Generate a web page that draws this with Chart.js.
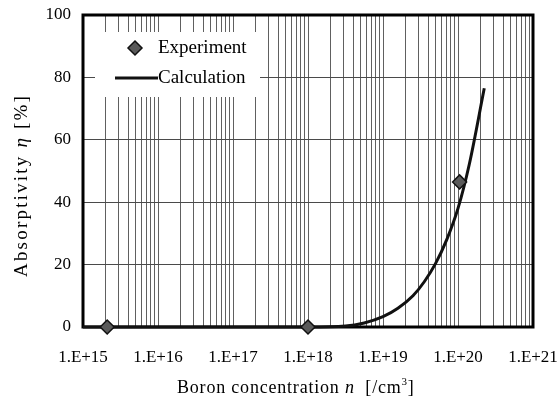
<!DOCTYPE html>
<html lang="en">
<head>
<meta charset="UTF-8" />
<title>Absorptivity vs boron concentration</title>
<script src="https://cdn.jsdelivr.net/npm/chart.js"></script>
<style>
  html, body { margin: 0; padding: 0; background: #fff; }
  canvas { display: block; }
</style>
</head>
<body>

<canvas id="grafico" width="559" height="401"></canvas>

<script>
  // tick labels for the decades on the x axis
  const xTickLabels = ['1.E+15', '1.E+16', '1.E+17', '1.E+18', '1.E+19', '1.E+20', '1.E+21'];
  const xMin = 1e15, xMax = 1e21;
  const yMin = 0, yMax = 100, yStep = 20;

  // measured points
  const expN   = [2.1e15, 1e18, 1.05e20];
  const expEta = [0, 0, 46.5];

  // calculated curve
  const calcN   = [1e15, 1e18, 3.16e18, 5.62e18, 1e19, 1.58e19, 2.51e19, 3.55e19, 5.01e19, 7.08e19, 1e20, 1.41e20, 2.24e20];
  const calcEta = [0, 0, 0.3, 1.3, 3.3, 6, 10, 14.5, 20.3, 28, 38, 52, 76.5];

  const serif = '"Liberation Serif", "Times New Roman", serif';
  const ink = '#000';

  function drawParts(ctx, parts, x, y, spacing) {
    ctx.letterSpacing = spacing + 'px';
    let cx = x;
    for (const p of parts) {
      ctx.font = p.font;
      ctx.fillText(p.t, cx, y - (p.rise || 0));
      cx += ctx.measureText(p.t).width;
    }
    ctx.letterSpacing = '0px';
  }

  const titulos = {
    id: 'titulos',
    afterDraw(chart) {
      const ctx = chart.ctx;
      ctx.save();
      ctx.fillStyle = ink;
      ctx.textAlign = 'left';
      ctx.textBaseline = 'alphabetic';
      drawParts(ctx, [
        { t: 'Boron concentration ', font: '18px ' + serif },
        { t: 'n', font: 'italic 18px ' + serif },
        { t: '  [/cm', font: '18px ' + serif },
        { t: '3', font: '11px ' + serif, rise: 8 },
        { t: ']', font: '18px ' + serif }
      ], 177, 393, 0.8);

      ctx.translate(27, 277);
      ctx.rotate(-Math.PI / 2);
      drawParts(ctx, [
        { t: 'Absorptivity ', font: '19px ' + serif },
        { t: 'η', font: 'italic 19px ' + serif },
        { t: ' [%]', font: '19px ' + serif }
      ], 0, 0, 2.2);
      ctx.restore();
    }
  };

  // legend inside the plot + the black frame
  const moldura = {
    id: 'moldura',
    beforeDatasetsDraw(chart) {
      const ctx = chart.ctx;
      const a = chart.chartArea;
      const ds = chart.data.datasets;
      ctx.save();
      ctx.fillStyle = '#fff';
      ctx.fillRect(a.left + 12, a.top + 17, 165, 65);

      // experiment marker
      const mx = a.left + 52, my = a.top + 33;
      ctx.beginPath();
      ctx.moveTo(mx, my - 7); ctx.lineTo(mx + 7, my); ctx.lineTo(mx, my + 7); ctx.lineTo(mx - 7, my);
      ctx.closePath();
      ctx.fillStyle = ds[0].backgroundColor;
      ctx.fill();
      ctx.lineWidth = 1.5;
      ctx.strokeStyle = ds[0].borderColor;
      ctx.stroke();

      // calculation line
      ctx.beginPath();
      ctx.moveTo(a.left + 32, a.top + 63);
      ctx.lineTo(a.left + 75, a.top + 63);
      ctx.lineWidth = 3;
      ctx.strokeStyle = ds[1].borderColor;
      ctx.stroke();

      ctx.fillStyle = ink;
      ctx.font = '19px ' + serif;
      ctx.textBaseline = 'middle';
      ctx.fillText(ds[0].label, a.left + 75, my);
      ctx.fillText(ds[1].label, a.left + 75, a.top + 63);

      ctx.lineWidth = 3;
      ctx.strokeStyle = '#000';
      ctx.strokeRect(a.left, a.top, a.right - a.left, a.bottom - a.top);
      ctx.restore();
    }
  };

  const fonteTick = { family: serif, size: 17 };

  new Chart(document.getElementById('grafico'), {
    type: 'scatter',
    data: {
      datasets: [
        {
          label: 'Experiment',
          data: expN.map((n, i) => ({ x: n, y: expEta[i] })),
          pointStyle: 'rectRot',
          pointRadius: 7,
          pointHoverRadius: 7,
          backgroundColor: '#5a5a5a',
          borderColor: '#111',
          borderWidth: 1.5,
          clip: false,
          order: 0
        },
        {
          label: 'Calculation',
          data: calcN.map((n, i) => ({ x: n, y: calcEta[i] })),
          showLine: true,
          pointRadius: 0,
          borderColor: '#111',
          borderWidth: 3,
          cubicInterpolationMode: 'monotone',
          clip: false,
          order: 1
        }
      ]
    },
    options: {
      responsive: false,
      animation: false,
      layout: { padding: { top: 15, right: 26, left: 0, bottom: 0 } },
      plugins: { legend: { display: false }, tooltip: { enabled: false } },
      scales: {
        x: {
          type: 'logarithmic',
          min: xMin,
          max: xMax,
          afterBuildTicks: (s) => {
            const t = [];
            for (let e = Math.log10(xMin); e < Math.log10(xMax); e++) {
              for (let m = 1; m <= 9; m++) t.push({ value: m * Math.pow(10, e) });
            }
            t.push({ value: xMax });
            s.ticks = t;
          },
          afterFit: (s) => {
            s.height = 74;
            s.paddingLeft = 0; s.paddingRight = 0;
          },
          border: { display: false },
          grid: { color: '#606060', lineWidth: 1, drawTicks: false },
          ticks: {
            autoSkip: false,
            maxRotation: 0,
            padding: 20,
            color: ink,
            font: fonteTick,
            callback: (v) => {
              const e = Math.log10(v);
              if (Math.abs(e - Math.round(e)) > 1e-9) return '';
              return xTickLabels[Math.round(e) - Math.log10(xMin)] || '';
            }
          }
        },
        y: {
          min: yMin,
          max: yMax,
          afterFit: (s) => {
            s.width = 83;
            s.paddingTop = 0; s.paddingBottom = 0;
          },
          border: { display: false },
          grid: { color: '#4a4a4a', lineWidth: 1, drawTicks: false },
          ticks: { stepSize: yStep, padding: 12, color: ink, font: fonteTick }
        }
      }
    },
    plugins: [moldura, titulos]
  });
</script>

</body>
</html>
